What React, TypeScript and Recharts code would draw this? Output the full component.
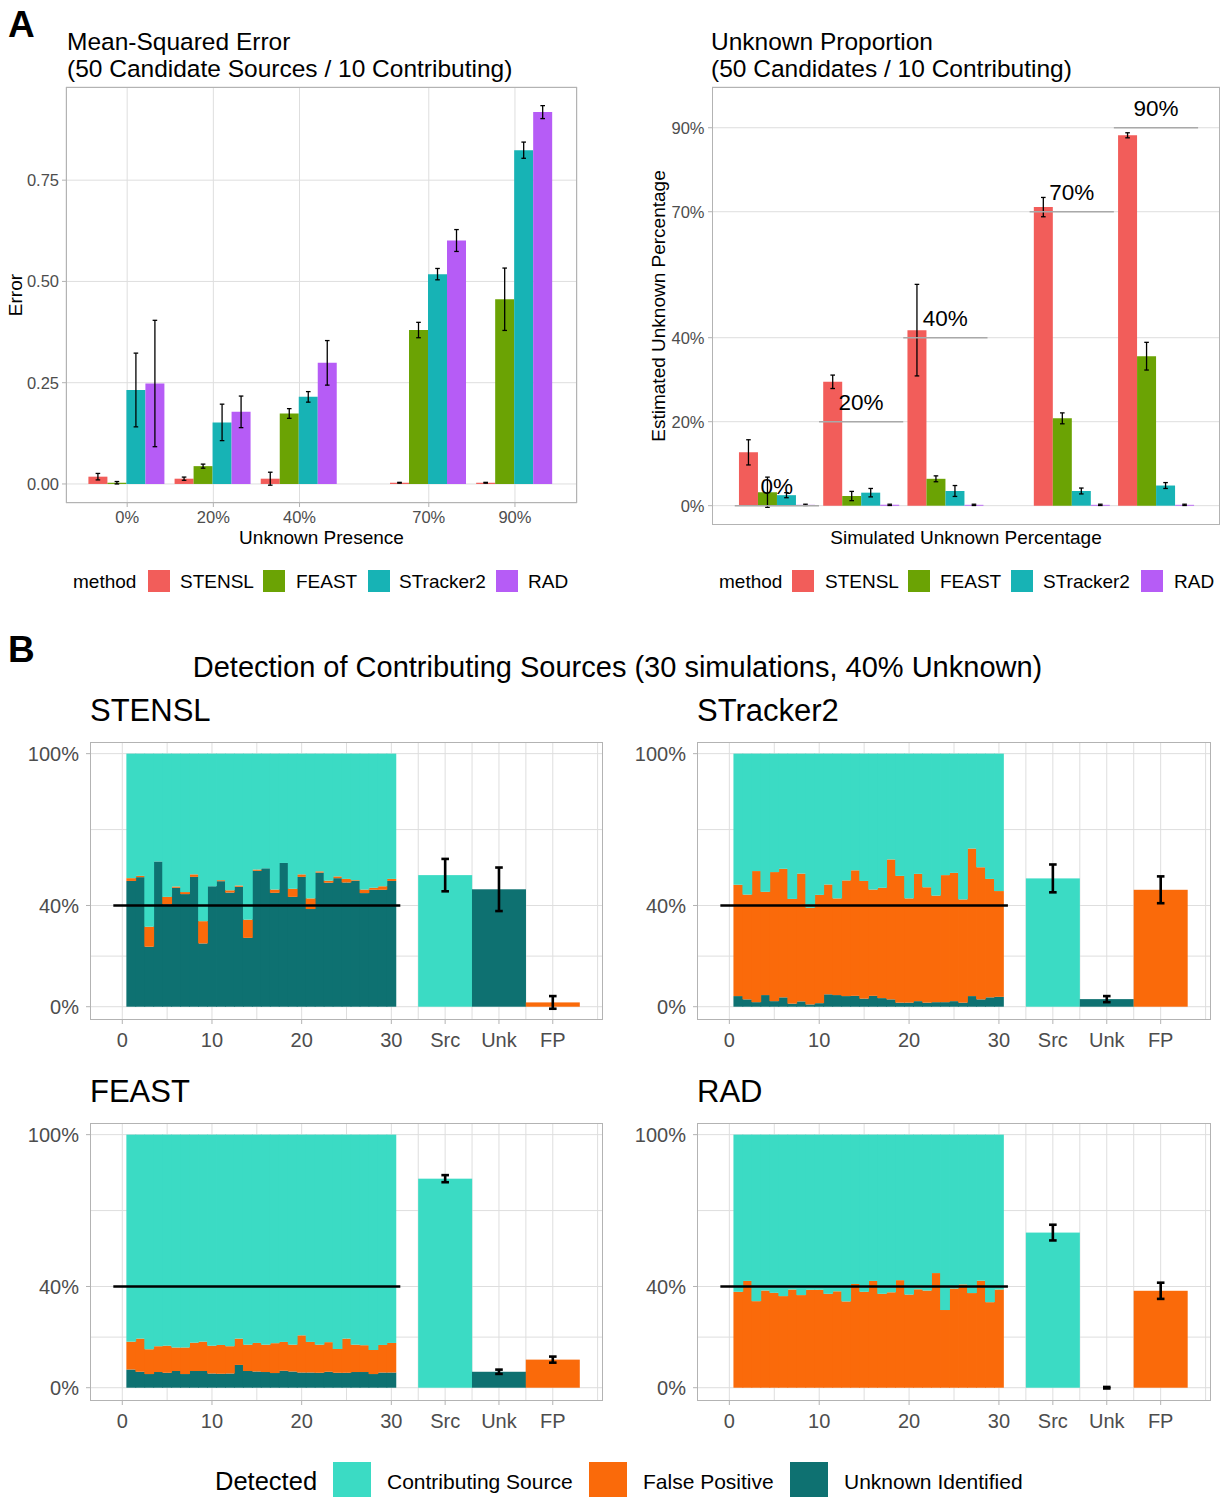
import React from 'react';
import { ComposedChart, Bar, XAxis, YAxis, CartesianGrid, ErrorBar, ReferenceLine, ReferenceDot } from 'recharts';

const FONT = '"Liberation Sans", Arial, Helvetica, sans-serif';

// ---------------- Panel A data ----------------
const methods = ['STENSL', 'FEAST', 'STracker2', 'RAD'];
const methodColors = ['#F25D5A', '#6BA304', '#17B3B5', '#B65CF6'];

const presenceValues = [0, 20, 40, 70, 90];
const presenceTickLabels = ['0%', '20%', '40%', '70%', '90%'];
const errorTicks = [0, 0.25, 0.5, 0.75];
const errorTickLabels = ['0.00', '0.25', '0.50', '0.75'];

const mseSTENSL = [0.018, 0.013, 0.013, 0.003, 0.003];
const mseSTENSLErr = [0.008, 0.004, 0.016, 0.001, 0.001];
const mseFEAST = [0.003, 0.044, 0.174, 0.38, 0.456];
const mseFEASTErr = [0.003, 0.005, 0.012, 0.019, 0.077];
const mseSTracker2 = [0.232, 0.152, 0.215, 0.518, 0.824];
const mseSTracker2Err = [0.091, 0.045, 0.013, 0.014, 0.02];
const mseRAD = [0.248, 0.178, 0.299, 0.601, 0.918];
const mseRADErr = [0.156, 0.039, 0.055, 0.027, 0.016];

const simulatedUnknown = [0, 20, 40, 70, 90];
const unknownTicks = [0, 20, 40, 70, 90];
const unknownTickLabels = ['0%', '20%', '40%', '70%', '90%'];
const unkSTENSL = [12.7, 29.5, 41.8, 71.1, 88.2];
const unkSTENSLErr = [3.0, 1.6, 10.9, 2.3, 0.6];
const unkFEAST = [3.2, 2.3, 6.4, 20.8, 35.6];
const unkFEASTErr = [3.6, 1.1, 0.7, 1.3, 3.3];
const unkSTracker2 = [2.5, 3.1, 3.5, 3.5, 4.8];
const unkSTracker2Err = [0.6, 1.0, 1.3, 0.7, 0.7];
const unkRAD = [0.2, 0.2, 0.2, 0.2, 0.2];
const unkRADErr = [0.15, 0.15, 0.15, 0.15, 0.15];
const truthLabelLift = 4.8;
const truthHalfWidth = 10;

// ---------------- Panel B data ----------------
const simIndex = [1, 2, 3, 4, 5, 6, 7, 8, 9, 10, 11, 12, 13, 14, 15, 16, 17, 18, 19, 20, 21, 22, 23, 24, 25, 26, 27, 28, 29, 30];
const summaryPositions = [36, 42, 48];
const detTicks = [0, 10, 20, 30, 36, 42, 48];
const detTickLabels = ['0', '10', '20', '30', 'Src', 'Unk', 'FP'];
const detMinorX = [0, 5, 10, 15, 20, 25, 30, 33, 36, 39, 42, 45, 48, 53];
const pctTicks = [0, 40, 100];
const pctTickLabels = ['0%', '40%', '100%'];
const pctGrid = [0, 20, 40, 70, 100];
const truthUnknown = 40;
const truthSpan = [-1, 31];

const stenslSimUnk = [49.7, 51.2, 23.7, 57.4, 40.5, 47.0, 44.5, 51.3, 25.0, 47.6, 49.6, 45.1, 47.4, 27.2, 53.7, 54.7, 45.0, 56.8, 43.4, 51.3, 38.6, 53.0, 49.0, 50.8, 49.1, 49.7, 44.9, 46.2, 46.2, 49.7];
const stenslSimFp = [1.1, 0.5, 7.9, 0, 2.9, 0.5, 0.8, 1.0, 8.8, 0, 0.4, 0.9, 0.5, 7.2, 0.5, 0, 1.3, 0, 3.2, 1.0, 4.2, 0.5, 0.8, 0.7, 1.4, 0.3, 1.4, 0.8, 1.4, 0.8];
const stenslSummary = [52.0, 46.4, 1.7];
const stenslSummaryErr = [6.4, 8.6, 2.5];

const stracker2SimUnk = [4.2, 2.9, 1.8, 4.6, 2.2, 3.7, 1.2, 2.1, 0.9, 1.4, 4.9, 4.6, 4.2, 4.3, 3.2, 4.3, 3.4, 2.9, 1.6, 1.6, 2.2, 1.6, 1.8, 1.8, 2.2, 1.6, 4.2, 2.9, 3.7, 3.9];
const stracker2SimFp = [44.0, 41.4, 51.8, 40.8, 51.0, 50.8, 41.4, 50.5, 38.2, 42.8, 43.4, 38.2, 45.7, 49.6, 46.5, 42.0, 43.6, 55.3, 50.1, 41.2, 50.3, 45.6, 42.1, 50.2, 50.7, 40.8, 58.3, 52.2, 46.8, 41.8];
const stracker2Summary = [50.7, 3.0, 46.2];
const stracker2SummaryErr = [5.5, 1.2, 5.3];

const feastSimUnk = [7.2, 6.3, 5.4, 6.2, 5.9, 6.6, 5.4, 6.6, 6.6, 5.6, 5.5, 5.6, 9.0, 6.6, 6.4, 6.2, 5.8, 6.7, 6.4, 6.0, 6.0, 5.9, 6.3, 5.9, 5.9, 6.2, 6.2, 5.4, 6.0, 6.0];
const feastSimFp = [11.0, 13.1, 9.8, 10.2, 10.7, 9.3, 10.5, 11.2, 11.6, 11.0, 11.4, 10.8, 10.4, 10.4, 11.3, 10.8, 11.8, 11.4, 10.6, 14.7, 12.1, 11.1, 11.7, 9.4, 13.5, 10.8, 10.6, 9.5, 10.9, 11.7];
const feastSummary = [82.6, 6.3, 11.1];
const feastSummaryErr = [1.4, 0.85, 1.2];

const radSimUnk = [0, 0, 0, 0, 0, 0, 0, 0, 0, 0, 0, 0, 0, 0, 0, 0, 0, 0, 0, 0, 0, 0, 0, 0, 0, 0, 0, 0, 0, 0];
const radSimFp = [37.9, 42.2, 34.2, 38.4, 37.5, 36.2, 38.8, 36.6, 38.7, 38.7, 37.1, 38.1, 34.1, 41.0, 37.9, 42.2, 37.1, 37.7, 42.5, 36.8, 38.9, 38.4, 45.3, 30.7, 39.2, 40.8, 37.4, 42.3, 33.8, 38.8];
const radSummary = [61.3, 0, 38.3];
const radSummaryErr = [3.1, 0.3, 3.2];

const detectedNames = ['Contributing Source', 'False Positive', 'Unknown Identified'];
const detectedColors = ['#3BDBC4', '#FA6A0A', '#0E7171'];

// ---------------- tables ----------------
const mseSeries = [mseSTENSL, mseFEAST, mseSTracker2, mseRAD];
const mseErrSeries = [mseSTENSLErr, mseFEASTErr, mseSTracker2Err, mseRADErr];
const unkSeries = [unkSTENSL, unkFEAST, unkSTracker2, unkRAD];
const unkErrSeries = [unkSTENSLErr, unkFEASTErr, unkSTracker2Err, unkRADErr];

function buildMethodRows(xs: number[], series: number[][], errs: number[][]) {
  return xs.map((x, i) => {
    const row: any = { x };
    methods.forEach((m, k) => {
      row[m] = series[k][i];
      row[m + 'Err'] = errs[k][i];
    });
    return row;
  });
}
const mseRows = buildMethodRows(presenceValues, mseSeries, mseErrSeries);
const unkRows = buildMethodRows(simulatedUnknown, unkSeries, unkErrSeries);

function buildDetectionRows(unk: number[], fp: number[], summary: number[], summaryErr: number[]) {
  const rows: any[] = simIndex.map((x, i) => ({ x, simUnk: unk[i], simFp: fp[i], simSrc: 100 - unk[i] - fp[i] }));
  rows.push({ x: summaryPositions[0], sumSrc: summary[0], sumSrcErr: summaryErr[0] });
  rows.push({ x: summaryPositions[1], sumUnk: summary[1], sumUnkErr: summaryErr[1] });
  rows.push({ x: summaryPositions[2], sumFp: summary[2], sumFpErr: summaryErr[2] });
  return rows;
}

const detectionPanels = [
  { name: 'STENSL', rows: buildDetectionRows(stenslSimUnk, stenslSimFp, stenslSummary, stenslSummaryErr), box: { x: 90, y: 742, w: 513, h: 278 } },
  { name: 'STracker2', rows: buildDetectionRows(stracker2SimUnk, stracker2SimFp, stracker2Summary, stracker2SummaryErr), box: { x: 697, y: 742, w: 514, h: 278 } },
  { name: 'FEAST', rows: buildDetectionRows(feastSimUnk, feastSimFp, feastSummary, feastSummaryErr), box: { x: 90, y: 1123, w: 513, h: 278 } },
  { name: 'RAD', rows: buildDetectionRows(radSimUnk, radSimFp, radSummary, radSummaryErr), box: { x: 697, y: 1123, w: 514, h: 278 } },
];

// ---------------- layout ----------------
const plotMse = { x: 66, y: 87, w: 511, h: 416 };
const plotUnk = { x: 712, y: 87, w: 508, h: 438 };
const GRID = '#dedede';
const BORDER = '#b3b3b3';
const TICK_TEXT = '#4d4d4d';
const SUMMARY_SPAN = 6;

type Box = { x: number; y: number; w: number; h: number };

function PlotBox({ box, yAxisWidth, xAxisHeight, children, ...rest }: any) {
  const pad = 2;
  return (
    <div style={{ position: 'absolute', left: box.x - yAxisWidth, top: box.y - pad }}>
      <ComposedChart
        width={yAxisWidth + box.w + pad}
        height={pad + box.h + xAxisHeight}
        margin={{ top: pad, right: pad, bottom: 0, left: 0 }}
        {...rest}
      >
        {children}
      </ComposedChart>
    </div>
  );
}

function Frame({ box }: { box: Box }) {
  return (
    <div
      style={{
        position: 'absolute', left: box.x, top: box.y, width: box.w, height: box.h,
        border: `1px solid ${BORDER}`, boxSizing: 'border-box', pointerEvents: 'none',
      }}
    />
  );
}

function WideBar(props: any) {
  const { x, y, width, height, fill } = props;
  if (!height || height <= 0) return null;
  const w = width * SUMMARY_SPAN;
  return <rect x={x + width / 2 - w / 2} y={y} width={w} height={height} fill={fill} />;
}

function SimBar(props: any) {
  const { x, y, width, height, fill } = props;
  if (!height || height <= 0) return null;
  // slight horizontal overlap so adjacent columns render without seams
  return <rect x={x - 0.4} y={y} width={width + 0.8} height={height} fill={fill} />;
}

function MseChart() {
  return (
    <PlotBox box={plotMse} yAxisWidth={66} xAxisHeight={30} data={mseRows} barCategoryGap="5%" barGap={0}>
      <CartesianGrid stroke={GRID} strokeWidth={1} />
      <XAxis
        dataKey="x" type="number" domain={[-14.2, 104.4]} allowDataOverflow ticks={presenceValues} interval={0}
        tickFormatter={(v: number) => presenceTickLabels[presenceValues.indexOf(v)] ?? ''}
        axisLine={false} tickLine={{ stroke: BORDER }} tickSize={4} tickMargin={4} height={30}
        tick={{ fill: TICK_TEXT, fontSize: 16.5 }}
      />
      <YAxis
        type="number" domain={[-0.047, 0.98]} allowDataOverflow ticks={errorTicks} interval={0}
        tickFormatter={(v: number) => errorTickLabels[errorTicks.indexOf(v)] ?? ''}
        axisLine={false} tickLine={{ stroke: BORDER }} tickSize={4} tickMargin={3} width={66}
        tick={{ fill: TICK_TEXT, fontSize: 16.5 }}
      />
      {methods.map((m, k) => (
        <Bar key={m} dataKey={m} fill={methodColors[k]} isAnimationActive={false}>
          <ErrorBar dataKey={m + 'Err'} width={2.3} stroke="#000" strokeWidth={1.3} isAnimationActive={false} />
        </Bar>
      ))}
    </PlotBox>
  );
}

function UnknownChart() {
  return (
    <PlotBox box={plotUnk} yAxisWidth={70} xAxisHeight={0} data={unkRows} barCategoryGap="5%" barGap={0}>
      <CartesianGrid stroke={GRID} strokeWidth={1} vertical={false} />
      <XAxis dataKey="x" type="number" domain={[-15.4, 105.2]} allowDataOverflow hide />
      <YAxis
        type="number" domain={[-4.6, 99.7]} allowDataOverflow ticks={unknownTicks} interval={0}
        tickFormatter={(v: number) => unknownTickLabels[unknownTicks.indexOf(v)] ?? ''}
        axisLine={false} tickLine={{ stroke: BORDER }} tickSize={4} tickMargin={3.5} width={70}
        tick={{ fill: TICK_TEXT, fontSize: 16.5 }}
      />
      {methods.map((m, k) => (
        <Bar key={m} dataKey={m} fill={methodColors[k]} isAnimationActive={false}>
          <ErrorBar dataKey={m + 'Err'} width={2.3} stroke="#000" strokeWidth={1.3} isAnimationActive={false} />
        </Bar>
      ))}
      {simulatedUnknown.map((v) => (
        <ReferenceLine
          key={'seg' + v}
          segment={[{ x: v - truthHalfWidth, y: v }, { x: v + truthHalfWidth, y: v }]}
          stroke="#a9a9a9" strokeWidth={1.6}
        />
      ))}
      {simulatedUnknown.map((v, i) => (
        <ReferenceDot
          key={'lab' + v} x={v} y={v + truthLabelLift} r={0} fill="none" stroke="none"
          label={{ value: unknownTickLabels[i], position: 'center', fontSize: 22.5, fill: '#000' }}
        />
      ))}
    </PlotBox>
  );
}

function DetectionChart({ rows, box }: { rows: any[]; box: Box }) {
  return (
    <PlotBox box={box} yAxisWidth={80} xAxisHeight={40} data={rows} barCategoryGap={0} barGap={0}>
      <CartesianGrid stroke={GRID} strokeWidth={1} horizontalValues={pctGrid} verticalValues={detMinorX} />
      <XAxis
        dataKey="x" type="number" domain={[-3.6, 53.6]} allowDataOverflow ticks={detTicks} interval={0}
        tickFormatter={(v: number) => detTickLabels[detTicks.indexOf(v)] ?? ''}
        axisLine={false} tickLine={{ stroke: BORDER }} tickSize={4} tickMargin={9} height={40}
        tick={{ fill: TICK_TEXT, fontSize: 20 }}
      />
      <YAxis
        type="number" domain={[-5.25, 104.6]} allowDataOverflow ticks={pctTicks} interval={0}
        tickFormatter={(v: number) => pctTickLabels[pctTicks.indexOf(v)] ?? ''}
        axisLine={false} tickLine={{ stroke: BORDER }} tickSize={4} tickMargin={7} width={80}
        tick={{ fill: TICK_TEXT, fontSize: 20 }}
      />
      <Bar dataKey="simUnk" stackId="d" fill={detectedColors[2]} shape={SimBar} isAnimationActive={false} />
      <Bar dataKey="simFp" stackId="d" fill={detectedColors[1]} shape={SimBar} isAnimationActive={false} />
      <Bar dataKey="simSrc" stackId="d" fill={detectedColors[0]} shape={SimBar} isAnimationActive={false} />
      <Bar dataKey="sumSrc" stackId="d" fill={detectedColors[0]} shape={WideBar} isAnimationActive={false}>
        <ErrorBar dataKey="sumSrcErr" width={3.8} stroke="#000" strokeWidth={2.6} isAnimationActive={false} />
      </Bar>
      <Bar dataKey="sumUnk" stackId="d" fill={detectedColors[2]} shape={WideBar} isAnimationActive={false}>
        <ErrorBar dataKey="sumUnkErr" width={3.8} stroke="#000" strokeWidth={2.6} isAnimationActive={false} />
      </Bar>
      <Bar dataKey="sumFp" stackId="d" fill={detectedColors[1]} shape={WideBar} isAnimationActive={false}>
        <ErrorBar dataKey="sumFpErr" width={3.8} stroke="#000" strokeWidth={2.6} isAnimationActive={false} />
      </Bar>
      <ReferenceLine
        segment={[{ x: truthSpan[0], y: truthUnknown }, { x: truthSpan[1], y: truthUnknown }]}
        stroke="#000" strokeWidth={2.6}
      />
    </PlotBox>
  );
}

const legendALeft = { title: 73, keys: [148, 263, 368, 496], labels: [180, 296, 399, 528] };
const legendARight = { title: 719, keys: [792, 908, 1011, 1141], labels: [825, 940, 1043, 1174] };
const legendB = { title: 215, keys: [333, 589, 790], labels: [387, 643, 844] };

export default function App() {
  return (
    <div
      style={{
        position: 'absolute', left: 0, top: 0, width: 1221, height: 1497, overflow: 'hidden',
        background: '#fff', fontFamily: FONT,
      }}
    >
      <MseChart />
      <UnknownChart />
      {detectionPanels.map((p) => (
        <DetectionChart key={p.name} rows={p.rows} box={p.box} />
      ))}
      <Frame box={plotMse} />
      <Frame box={plotUnk} />
      {detectionPanels.map((p) => (
        <Frame key={'f' + p.name} box={p.box} />
      ))}
      <svg
        width={1221} height={1497}
        style={{ position: 'absolute', left: 0, top: 0, pointerEvents: 'none', fontFamily: FONT }}
      >
        {/* Panel labels */}
        <text x={8} y={37} fontSize={37} fontWeight="bold" fill="#000">A</text>
        <text x={8} y={662} fontSize={37} fontWeight="bold" fill="#000">B</text>

        {/* Panel A titles */}
        <text x={67} y={50} fontSize={24.5} fill="#000">Mean-Squared Error</text>
        <text x={67} y={77} fontSize={24.5} fill="#000">(50 Candidate Sources / 10 Contributing)</text>
        <text x={711} y={50} fontSize={24.5} fill="#000">Unknown Proportion</text>
        <text x={711} y={77} fontSize={24.5} fill="#000">(50 Candidates / 10 Contributing)</text>

        {/* Axis titles */}
        <text x={22} y={295} fontSize={19} fill="#000" textAnchor="middle" transform="rotate(-90 22 295)">Error</text>
        <text x={321.5} y={544} fontSize={19} fill="#000" textAnchor="middle">Unknown Presence</text>
        <text x={665} y={306} fontSize={19} fill="#000" textAnchor="middle" transform="rotate(-90 665 306)">Estimated Unknown Percentage</text>
        <text x={966} y={544} fontSize={19} fill="#000" textAnchor="middle">Simulated Unknown Percentage</text>

        {/* Legends A */}
        {[legendALeft, legendARight].map((lg, li) => (
          <g key={'lg' + li}>
            <text x={lg.title} y={588} fontSize={19} fill="#000">method</text>
            {methods.map((m, k) => (
              <g key={m}>
                <rect x={lg.keys[k]} y={570} width={22} height={22} fill={methodColors[k]} />
                <text x={lg.labels[k]} y={588} fontSize={19} fill="#000">{m}</text>
              </g>
            ))}
          </g>
        ))}

        {/* Panel B title and facet strips */}
        <text x={617.5} y={677} fontSize={29} fill="#000" textAnchor="middle">
          Detection of Contributing Sources (30 simulations, 40% Unknown)
        </text>
        {detectionPanels.map((p) => (
          <text key={'t' + p.name} x={p.box.x} y={p.box.y - 21} fontSize={31} fill="#000">{p.name}</text>
        ))}

        {/* Legend B */}
        <text x={legendB.title} y={1490} fontSize={25.5} fill="#000">Detected</text>
        {detectedNames.map((n, k) => (
          <g key={n}>
            <rect x={legendB.keys[k]} y={1462} width={38} height={38} fill={detectedColors[k]} />
            <text x={legendB.labels[k]} y={1489} fontSize={21} fill="#000">{n}</text>
          </g>
        ))}
      </svg>
    </div>
  );
}
